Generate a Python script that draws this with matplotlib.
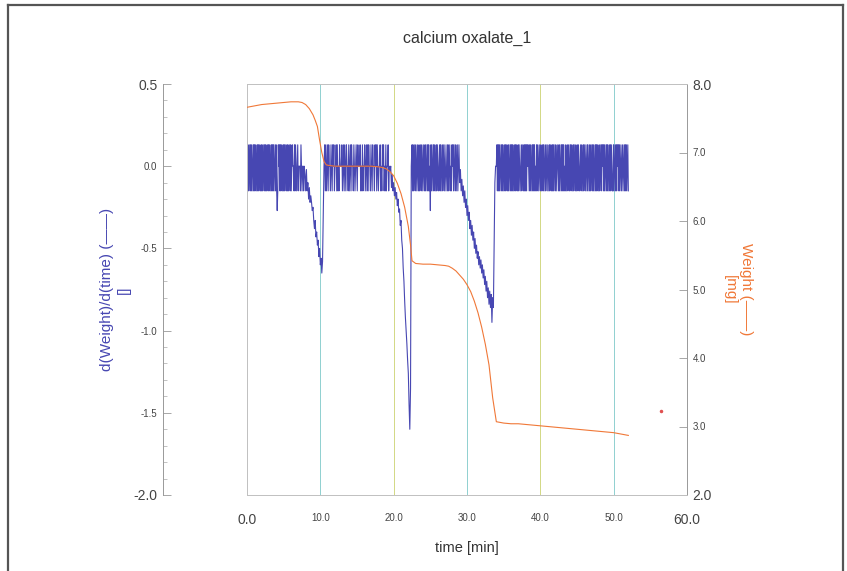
import numpy as np
import matplotlib
matplotlib.use('Agg')
import matplotlib.pyplot as plt
from matplotlib.lines import Line2D

plt.rcParams['font.family'] = ['Liberation Sans', 'DejaVu Sans']

# ---- Weight curve (mg) ----
weight_time = [0, 1, 2, 3, 4, 5, 6, 7, 7.5, 8, 8.5, 9,
               9.3, 9.6, 9.9, 10.2, 10.5, 10.8, 11.2,
               12, 13, 14, 15, 16, 17, 18,
               18.5, 19, 19.5, 20, 20.5, 21, 21.5, 22, 22.3, 22.5,
               23, 24, 25, 26, 27,
               27.5, 28, 28.5, 29, 29.5, 30, 30.5, 31, 31.5, 32, 32.5, 33, 33.5, 34,
               35, 36, 37, 38, 39, 40, 41, 42, 43, 44, 45, 46, 47, 48, 49, 50, 51, 52]
weight_mg = [7.66, 7.68, 7.70, 7.71, 7.72, 7.73, 7.74, 7.74, 7.73, 7.70, 7.64, 7.55,
             7.47, 7.38, 7.18, 7.00, 6.87, 6.82, 6.81,
             6.80, 6.80, 6.80, 6.80, 6.80, 6.80, 6.79,
             6.78, 6.76, 6.72, 6.66, 6.55, 6.40, 6.20, 5.92, 5.65, 5.42,
             5.38, 5.37, 5.37, 5.36, 5.35,
             5.34, 5.31, 5.27, 5.21, 5.15, 5.07, 4.97, 4.83, 4.66, 4.45, 4.20, 3.90, 3.42, 3.07,
             3.05, 3.04, 3.04, 3.03, 3.02, 3.01, 3.00, 2.99, 2.98, 2.97, 2.96, 2.95, 2.94,
             2.93, 2.92, 2.91, 2.89, 2.87]
stray_time = [56.5]
stray_weight = [3.23]

# ---- d(Weight)/d(time): quantised noise segments + dips ----
# '+' / '-' / '0' levels, 'L' = isolated low spike
levels = {'+': 0.13, '-': -0.15, '0': 0.0, 'L': -0.27}

noise_a = ("+-+-0+-+-+" "0-+-+-+0-+" "-+-+0-+-+-" "0+-+-+-0+-" "+-+0-+-+-+"
           "-0+-+-L-+0" "+-+-+0-+-+" "-+0-+-+-0+" "-+-0+00-+-" "+0-0+-000-"
           "+0-00-0")
noise_b = ("+-+-0+-+00" "-+0-+0+-00" "+-+-0-+000" "+-0+-+0-+0" "0-+-0+-+00"
           "-+0-0+0-+0" "00+-0-+-00" "+-0+-+-+00" "-+0-+00-+0" "+-+0-00+-0"
           "-+0+-0-+-0" "0+-0")
noise_c = ("+-+-0+-+0-" "+0-+-0+-+0" "-+0-+-+0-+" "-+-0L+-+0-" "+-+0-+-+0-"
           "0+-+-0+-+0" "-+0-0+-+-0" "+-0-+0+-+0" "-+-0+-0+")
noise_d = ("0+-+-+-+0-" "+-+-0+-+-+" "0-+-+0-+-+" "-+-0+-+-+0" "-+-+0-0+-+"
           "0-+-+-+-+0" "+0-+-+0-+-" "+-+-0-+-+0" "-+0-+-0+-+" "-0+-+0-+0-"
           "+-+0-+-+-+" "0-+-0+0-+-" "+0-+-+-+-0" "-+-0+-+0-+" "+-+0-+-+0-"
           "+-0+-+0-0+" "-+0-+-+0-+" "0-+-0+-+-0" "+-+-+0-+-+" "-+0-+-0+-+"
           "0+-+-+0-+-" "+-0+-+-+0-" "-+-0+-+-+0" "+-+-0+-0+-" "0+-+-+-0+-")

dip1 = [-0.05, -0.15, -0.02, -0.15, -0.10, -0.20, -0.13, -0.22, -0.18, -0.22,
        -0.27, -0.25, -0.33, -0.38, -0.33, -0.43, -0.40, -0.48, -0.45, -0.55,
        -0.50, -0.60, -0.56, -0.65, -0.58, -0.30, 0.0]
dip2 = [-0.03, 0.0, -0.13, -0.05, -0.15, -0.10, -0.18, -0.13, -0.20, -0.16,
        -0.24, -0.20, -0.28, -0.26, -0.36, -0.33, -0.45, -0.50, -0.62, -0.70,
        -0.82, -0.92, -1.00, -1.08, -1.18, -1.26, -1.45, -1.60, -1.35, 0.0]
dip3 = [-0.10, -0.02, -0.15, -0.08, -0.18, -0.12, -0.22, -0.15, -0.25, -0.20,
        -0.30, -0.24, -0.33, -0.28, -0.38, -0.33, -0.42, -0.36, -0.45, -0.40,
        -0.50, -0.44, -0.53, -0.48, -0.56, -0.52, -0.60, -0.55, -0.62, -0.57,
        -0.65, -0.60, -0.68, -0.63, -0.72, -0.67, -0.76, -0.70, -0.80, -0.74,
        -0.84, -0.76, -0.86, -0.78, -0.95, -0.80, -0.86, -0.45, -0.10, 0.0]

# (start, end) time of each segment in minutes
segments = [
    (0.0, 7.8, [levels[c] for c in noise_a]),
    (7.9, 10.5, dip1),
    (10.6, 19.4, [levels[c] for c in noise_b]),
    (19.5, 22.4, dip2),
    (22.5, 28.9, [levels[c] for c in noise_c]),
    (29.0, 33.9, dip3),
    (34.0, 52.0, [levels[c] for c in noise_d]),
]
deriv_t = np.concatenate([np.linspace(a, b, len(v)) for a, b, v in segments])
deriv_v = np.concatenate([np.array(v, dtype=float) for a, b, v in segments])

blue = '#4747b2'
orange = '#f07838'
label_gray = '#444444'

fig = plt.figure(figsize=(8.47, 5.71), dpi=100)
W, H = 847.0, 571.0
ax = fig.add_axes([247 / W, 1 - 495 / H, 440 / W, 411 / H])

# frame round the whole picture
for xs, ys in [([8 / W, 8 / W], [0, 1 - 5 / H]),
               ([8 / W, 843 / W], [1 - 5 / H, 1 - 5 / H]),
               ([843 / W, 843 / W], [0, 1 - 5 / H])]:
    fig.add_artist(Line2D(xs, ys, transform=fig.transFigure, color='#555555', lw=1.6))

# vertical grid lines
grid_cols = {10: '#8fd0d0', 20: '#d2d884', 30: '#8fd0d0', 40: '#d2d884', 50: '#8fd0d0'}
for gx, gc in grid_cols.items():
    ax.axvline(gx, color=gc, lw=0.7, zorder=1)

ax.plot(deriv_t, deriv_v, color=blue, lw=0.8, zorder=3)
ax.set_xlim(0, 60)
ax.set_ylim(-2.0, 0.5)

for s in ['top', 'right', 'bottom']:
    ax.spines[s].set_visible(False)
ax.spines['left'].set_position(('axes', -84 / 440))
ax.spines['left'].set_color('#999999')
ax.spines['left'].set_linewidth(0.7)

ax.set_yticks([0.5, 0.0, -0.5, -1.0, -1.5, -2.0],
              labels=['0.5', '0.0', '-0.5', '-1.0', '-1.5', '-2.0'])
ax.set_yticks(np.arange(-2.0, 0.51, 0.1), minor=True)
ax.tick_params(axis='y', which='major', direction='in', length=6, width=0.6,
               color='#999999', labelcolor=label_gray, labelsize=7, pad=4)
ax.tick_params(axis='y', which='minor', direction='in', length=3, width=0.5,
               color='#aaaaaa')
ax.set_xticks([0, 10, 20, 30, 40, 50, 60],
              labels=['0.0', '10.0', '20.0', '30.0', '40.0', '50.0', '60.0'])
ax.tick_params(axis='x', length=0, labelsize=7, labelcolor=label_gray, pad=13)

ylab = ax.get_yticklabels()
ylab[0].set_fontsize(10)
ylab[-1].set_fontsize(10)
xlab = ax.get_xticklabels()
xlab[0].set_fontsize(10)
xlab[-1].set_fontsize(10)

ax.set_ylabel('d(Weight)/d(time) (\u2014\u2014)\n[]', color=blue, fontsize=11,
              labelpad=2, linespacing=1.2)
ax.set_xlabel('time [min]', fontsize=10.5, color='#333333', labelpad=10)

# weight on the right axis
ax2 = ax.twinx()
ax2.plot(weight_time, weight_mg, color=orange, lw=0.8, zorder=4)
ax2.plot(stray_time, stray_weight, 'o', color='#e05050', ms=1.5)
ax2.set_ylim(2.0, 8.0)
ax2.set_yticks([8, 7, 6, 5, 4, 3, 2],
               labels=['8.0', '7.0', '6.0', '5.0', '4.0', '3.0', '2.0'])
ax2.tick_params(axis='y', direction='in', length=6, width=0.6, color='#999999',
                labelcolor=label_gray, labelsize=7, pad=4)
wlab = ax2.get_yticklabels()
wlab[0].set_fontsize(10)
wlab[-1].set_fontsize(10)
for s in ['left', 'top', 'bottom']:
    ax2.spines[s].set_color('#c0c0c0')
    ax2.spines[s].set_linewidth(0.7)
ax2.spines['right'].set_color('#999999')
ax2.spines['right'].set_linewidth(0.7)

ax2.set_ylabel('Weight (\u2014\u2014)\n[mg]', color=orange, fontsize=11,
               rotation=270, va='bottom', labelpad=8, linespacing=1.2)

fig.text(467 / W, 1 - 38 / H, 'calcium oxalate_1', ha='center', va='center',
         fontsize=11.5, color='#333333')

fig.savefig('out.png', dpi=100)
